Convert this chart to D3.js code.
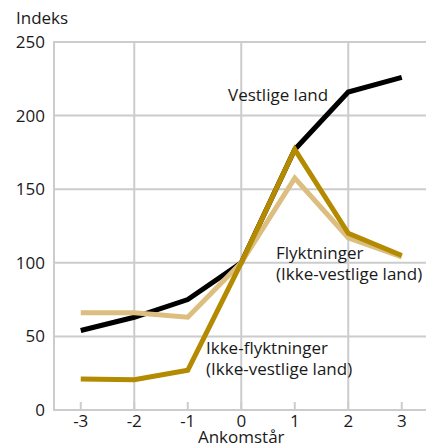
<!DOCTYPE html>
<html>
<head>
<meta charset="utf-8">
<script src="https://cdn.jsdelivr.net/npm/d3@7"></script>
<style>
  body { margin: 0; background: #fff; }
  svg text { font-family: "Open Sans", "Noto Sans", sans-serif; fill: #1a1a1a; }
</style>
</head>
<body>
<svg id="chart" width="426" height="447"></svg>
<script>
const years = [-3, -2, -1, 0, 1, 2, 3];
const gridYears = [-2, 0, 2];
const yTicks = [0, 50, 100, 150, 200, 250];

const vestlige = [54, 63, 75, 100, 177, 216, 226];
const ikkeFlyktninger = [21, 20.5, 27, 100, 177, 120, 105];
const flyktninger = [66, 66, 63, 100, 157.5, 117, 104];

const series = [
    {name: 'vestlige', values: vestlige, color: '#000000'},
    {name: 'flyktninger', values: flyktninger, color: '#dcbf80'},
    {name: 'ikkeFlyktninger', values: ikkeFlyktninger, color: '#b38a00'}
];

const chartWidth = 426;
const plotLeft = 54;
const plotTop = 42;
const plotBottom = 410;

const svg = d3.select('#chart');

const xScale = d3.scaleLinear()
    .domain([-3.5, 3.5])
    .range([plotLeft, plotLeft + 7 * 53.5]);

const yScale = d3.scaleLinear()
    .domain([0, 250])
    .range([plotBottom, plotTop]);

const grid = '#cccccc';

// horizontal grid
svg.append('g')
    .selectAll('line')
    .data(yTicks)
    .enter()
    .append('line')
    .attr('x1', plotLeft)
    .attr('x2', chartWidth)
    .attr('y1', d => yScale(d))
    .attr('y2', d => yScale(d))
    .attr('stroke', grid)
    .attr('stroke-width', 2);

// vertical grid, only every other year
svg.append('g')
    .selectAll('line')
    .data(gridYears)
    .enter()
    .append('line')
    .attr('x1', d => xScale(d))
    .attr('x2', d => xScale(d))
    .attr('y1', plotTop)
    .attr('y2', plotBottom)
    .attr('stroke', grid)
    .attr('stroke-width', 2);

// short inner ticks on the x axis
svg.append('g')
    .selectAll('line')
    .data(years)
    .enter()
    .append('line')
    .attr('x1', d => xScale(d))
    .attr('x2', d => xScale(d))
    .attr('y1', plotBottom - 8)
    .attr('y2', plotBottom)
    .attr('stroke', grid)
    .attr('stroke-width', 2);

// left axis line
svg.append('line')
    .attr('x1', plotLeft).attr('x2', plotLeft)
    .attr('y1', plotTop - 1).attr('y2', plotBottom + 1)
    .attr('stroke', grid)
    .attr('stroke-width', 2);

// y tick labels
svg.append('g')
    .selectAll('text')
    .data(yTicks)
    .enter()
    .append('text')
    .attr('x', 45)
    .attr('y', d => yScale(d))
    .attr('dy', '0.35em')
    .attr('text-anchor', 'end')
    .attr('font-size', 17)
    .text(d => d);

// x tick labels
svg.append('g')
    .selectAll('text')
    .data(years)
    .enter()
    .append('text')
    .attr('x', d => xScale(d))
    .attr('y', 427)
    .attr('text-anchor', 'middle')
    .attr('font-size', 17)
    .text(d => d);

svg.append('text')
    .attr('x', 16).attr('y', 24)
    .attr('font-size', 17)
    .text('Indeks');

svg.append('text')
    .attr('x', xScale(0)).attr('y', 443)
    .attr('text-anchor', 'middle')
    .attr('font-size', 17)
    .text('Ankomstår');

const line = d3.line()
    .x((d, i) => xScale(years[i]))
    .y(d => yScale(d));

svg.append('g')
    .selectAll('path')
    .data(series)
    .enter()
    .append('path')
    .attr('d', d => line(d.values))
    .attr('fill', 'none')
    .attr('stroke', d => d.color)
    .attr('stroke-width', 5);

const labels = [
    {lines: ['Vestlige land'], x: 228, y: 101},
    {lines: ['Flyktninger', '(Ikke-vestlige land)'], x: 276, y: 259},
    {lines: ['Ikke-flyktninger', '(Ikke-vestlige land)'], x: 206, y: 354}
];

labels.forEach(l => {
    const t = svg.append('text')
        .attr('x', l.x)
        .attr('y', l.y)
        .attr('font-size', 17);
    l.lines.forEach((s, i) => {
        t.append('tspan')
            .attr('x', l.x)
            .attr('dy', i === 0 ? 0 : 21)
            .text(s);
    });
});
</script>
</body>
</html>
